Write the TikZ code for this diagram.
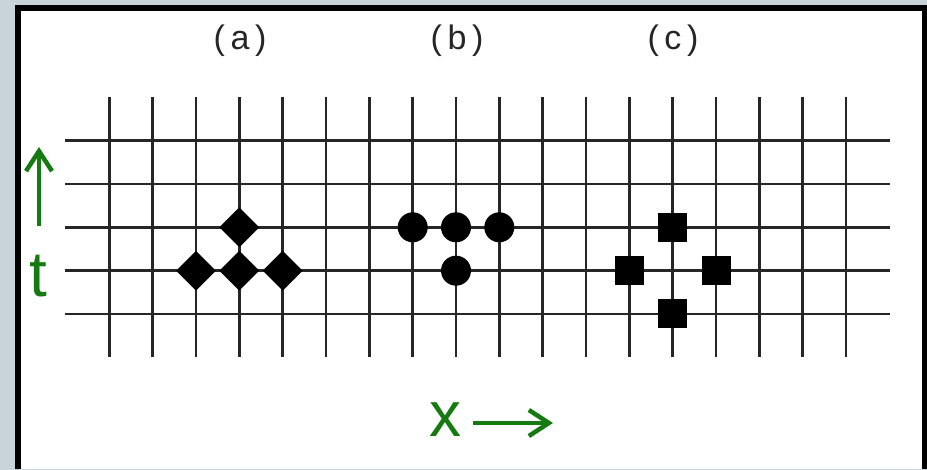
\documentclass[tikz,border=0pt]{standalone}
\usepackage{fontspec}
\setmainfont{Liberation Sans}
\usetikzlibrary{shapes.geometric,arrows.meta}
\definecolor{bggray}{RGB}{200,211,218}
\definecolor{tgreen}{RGB}{22,122,18}
\tikzset{
  gridline/.style={line width=2.6pt, draw=black!85},
  diam/.style={diamond, fill=black, inner sep=0pt, minimum width=40pt, minimum height=40pt},
  dot/.style={circle, fill=black, inner sep=0pt, minimum size=30pt},
  sq/.style={rectangle, fill=black, inner sep=0pt, minimum size=29pt},
  lbl/.style={font=\fontsize{34}{38}\selectfont, text=black!85, inner sep=0pt},
  glbl/.style={font=\fontsize{64}{68}\selectfont, text=tgreen, inner sep=0pt},
  garrow/.style={draw=tgreen, line width=4.5pt, -{Straight Barb[length=20pt,width=26pt,line width=4.5pt]}}
}
\begin{document}
\begin{tikzpicture}[x=1pt,y=-1pt]
\useasboundingbox (0,0) rectangle (927,470);
\fill[bggray] (0,0) rectangle (927,470);
\fill[black] (15,5) rectangle (927,469);
\fill[white] (21,11) rectangle (922,469);
% grid
\foreach \i in {0,...,17} {
  \draw[gridline] ({109.3+43.33*\i},97) -- ({109.3+43.33*\i},357);
}
\foreach \j in {0,...,4} {
  \draw[gridline] (65,{140.7+43.33*\j}) -- (890,{140.7+43.33*\j});
}
% labels
\node[lbl] (la) at (240,41) {(\,a\,)};
\node[lbl] (lb) at (457,41) {(\,b\,)};
\node[lbl] (lc) at (673,41) {(\,c\,)};
% (a) diamonds
\node[diam] (a1) at (239.3,227.3) {};
\node[diam] (a2) at (196,270.7) {};
\node[diam] (a3) at (239.3,270.7) {};
\node[diam] (a4) at (282.7,270.7) {};
% (b) circles
\node[dot] (b1) at (412.7,227.3) {};
\node[dot] (b2) at (456,227.3) {};
\node[dot] (b3) at (499.3,227.3) {};
\node[dot] (b4) at (456,270.7) {};
% (c) squares
\node[sq] (c1) at (672.7,227.3) {};
\node[sq] (c2) at (629.3,270.7) {};
\node[sq] (c3) at (716,270.7) {};
\node[sq] (c4) at (672.7,314) {};
% axes labels
\node[glbl] (t) at (38.5,276) {t};
\coordinate (tlow) at (39,226);
\coordinate (thigh) at (39,147);
\draw[garrow] (tlow) -- (thigh);
\node[glbl] (x) at (445,420) {x};
\coordinate (xl) at (473,423);
\coordinate (xr) at (553,423);
\draw[garrow] (xl) -- (xr);
\end{tikzpicture}
\end{document}
